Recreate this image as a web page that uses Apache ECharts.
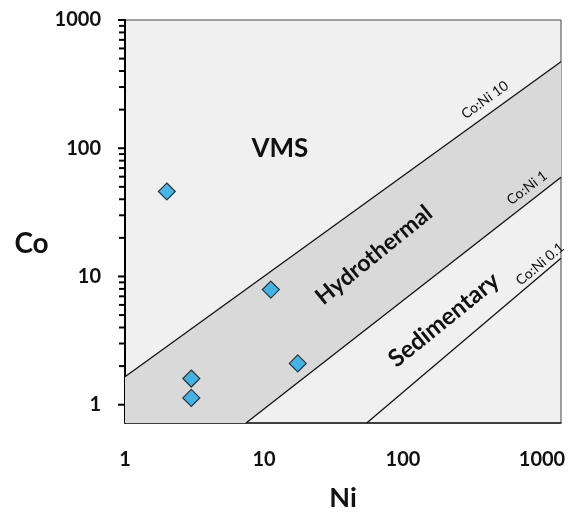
<!DOCTYPE html>
<html><head><meta charset="utf-8">
<script src="https://cdn.jsdelivr.net/npm/echarts@6/dist/echarts.min.js"></script>
<style>html,body{margin:0;padding:0;background:#fff}#c{width:569px;height:524px}</style>
</head><body><div id="c"></div>
<script>
// ---- data ----
const niValues = [2, 11.2, 17.5, 3, 3];
const coValues = [46, 7.9, 2.1, 1.6, 1.13];
const xTickLabels = [1, 10, 100, 1000];
const yTickLabels = [1, 10, 100, 1000];
const yMinorTicks = [2,3,4,5,6,7,8,9,20,30,40,50,60,70,80,90,200,300,400,500,600,700,800,900];
const xRange = [1, 1370];
const yRange = [0.72, 1000];
const lineCoNi10 = [[1, 1.65], [1370, 473]];
const lineCoNi1 = [[7.42, 0.72], [1370, 59.4]];
const lineCoNi01 = [[54.8, 0.72], [1370, 13.9]];
const regionNames = ['VMS', 'Hydrothermal', 'Sedimentary', 'Co:Ni 10', 'Co:Ni 1', 'Co:Ni 0.1'];
const regionNi = [13, 61.8, 197, 389, 780, 968];
const regionCo = [99, 14.7, 4.58, 238, 49, 12.5];

// ---- styles ----
const FONT = 'Lato, "Open Sans", sans-serif';
const labelStyles = [
  {size: 26, weight: 'bold', angle: 0},
  {size: 23, weight: 'bold', angle: 39},
  {size: 24, weight: 'bold', angle: 39},
  {size: 14, weight: 'normal', angle: 36},
  {size: 14, weight: 'normal', angle: 37},
  {size: 14, weight: 'normal', angle: 40}
];
function isListed(v, list) { return list.some(t => Math.abs(Math.log10(v) - Math.log10(t)) < 1e-6); }

const lineStyle = {color: '#111', width: 1.3};
const chart = echarts.init(document.getElementById('c'), null, {renderer: 'canvas'});
chart.setOption({
  animation: false,
  grid: {left: 125, right: 8, top: 20, bottom: 101, show: true, backgroundColor: '#f0f0f0', borderColor: '#444', borderWidth: 1},
  xAxis: {
    type: 'log', logBase: 10, min: xRange[0], max: xRange[1],
    name: 'Ni', nameLocation: 'middle', nameGap: 62,
    nameTextStyle: {fontFamily: FONT, fontSize: 27, fontWeight: 'bold', color: '#111'},
    axisLine: {show: true, lineStyle: {color: '#222', width: 1.5}},
    axisTick: {show: false}, splitLine: {show: false}, minorTick: {show: false},
    axisLabel: {margin: 27, fontFamily: FONT, fontSize: 20, fontWeight: 'bold', color: '#111', showMinLabel: true, showMaxLabel: true,
      formatter: v => isListed(v, xTickLabels) ? String(Math.round(v)) : ''}
  },
  yAxis: {
    type: 'log', logBase: 10, min: yRange[0], max: yRange[1],
    name: 'Co', nameLocation: 'middle', nameGap: 64, nameRotate: 0,
    nameTextStyle: {fontFamily: FONT, fontSize: 28, fontWeight: 'bold', color: '#111', verticalAlign: 'top', lineHeight: 44},
    axisLine: {show: true, lineStyle: {color: '#000', width: 2}},
    axisTick: {show: false}, splitLine: {show: false}, minorTick: {show: false},
    axisLabel: {margin: 24, fontFamily: FONT, fontSize: 20, fontWeight: 'bold', color: '#111',
      formatter: v => isListed(v, yTickLabels) ? String(Math.round(v)) : ''}
  },
  series: [
    {
      type: 'custom', name: 'band', silent: true, z: 1, clip: true,
      data: [[xRange[0], yRange[0]]],
      renderItem: (params, api) => {
        const verts = [[xRange[0], yRange[0]], lineCoNi10[0], lineCoNi10[1], lineCoNi1[1], lineCoNi1[0]];
        return {type: 'polygon', shape: {points: verts.map(p => api.coord(p))}, style: {fill: '#d9d9d9'}};
      }
    },
    {type: 'line', name: 'Co:Ni 10', data: lineCoNi10, showSymbol: false, silent: true, z: 2, lineStyle},
    {type: 'line', name: 'Co:Ni 1', data: lineCoNi1, showSymbol: false, silent: true, z: 2, lineStyle},
    {type: 'line', name: 'Co:Ni 0.1', data: lineCoNi01, showSymbol: false, silent: true, z: 2, lineStyle},
    {
      type: 'custom', name: 'yticks', silent: true, z: 5, clip: false,
      data: yTickLabels.map(v => [xRange[0], v, 1]).concat(yMinorTicks.map(v => [xRange[0], v, 0])),
      renderItem: (params, api) => {
        const p = api.coord([api.value(0), api.value(1)]);
        const len = api.value(2) ? 7 : 6;
        return {type: 'line', shape: {x1: p[0] - len, y1: p[1], x2: p[0], y2: p[1]}, style: {stroke: '#000', lineWidth: 2}};
      }
    },
    {
      type: 'custom', name: 'labels', silent: true, z: 6, clip: false,
      data: regionNames.map((n, i) => [regionNi[i], regionCo[i], i]),
      renderItem: (params, api) => {
        const p = api.coord([api.value(0), api.value(1)]);
        const i = api.value(2);
        const s = labelStyles[i];
        return {type: 'text', x: p[0], y: p[1], rotation: s.angle * Math.PI / 180,
          style: {text: regionNames[i], fontFamily: FONT, fontSize: s.size, fontWeight: s.weight, fill: '#111', align: 'center', verticalAlign: 'middle'}};
      }
    },
    {
      type: 'scatter', name: 'samples', z: 10,
      data: niValues.map((v, i) => [v, coValues[i]]),
      symbol: 'diamond', symbolSize: 17,
      itemStyle: {color: '#1fa7e6', borderColor: '#111', borderWidth: 1.2}
    }
  ]
});
</script></body></html>
